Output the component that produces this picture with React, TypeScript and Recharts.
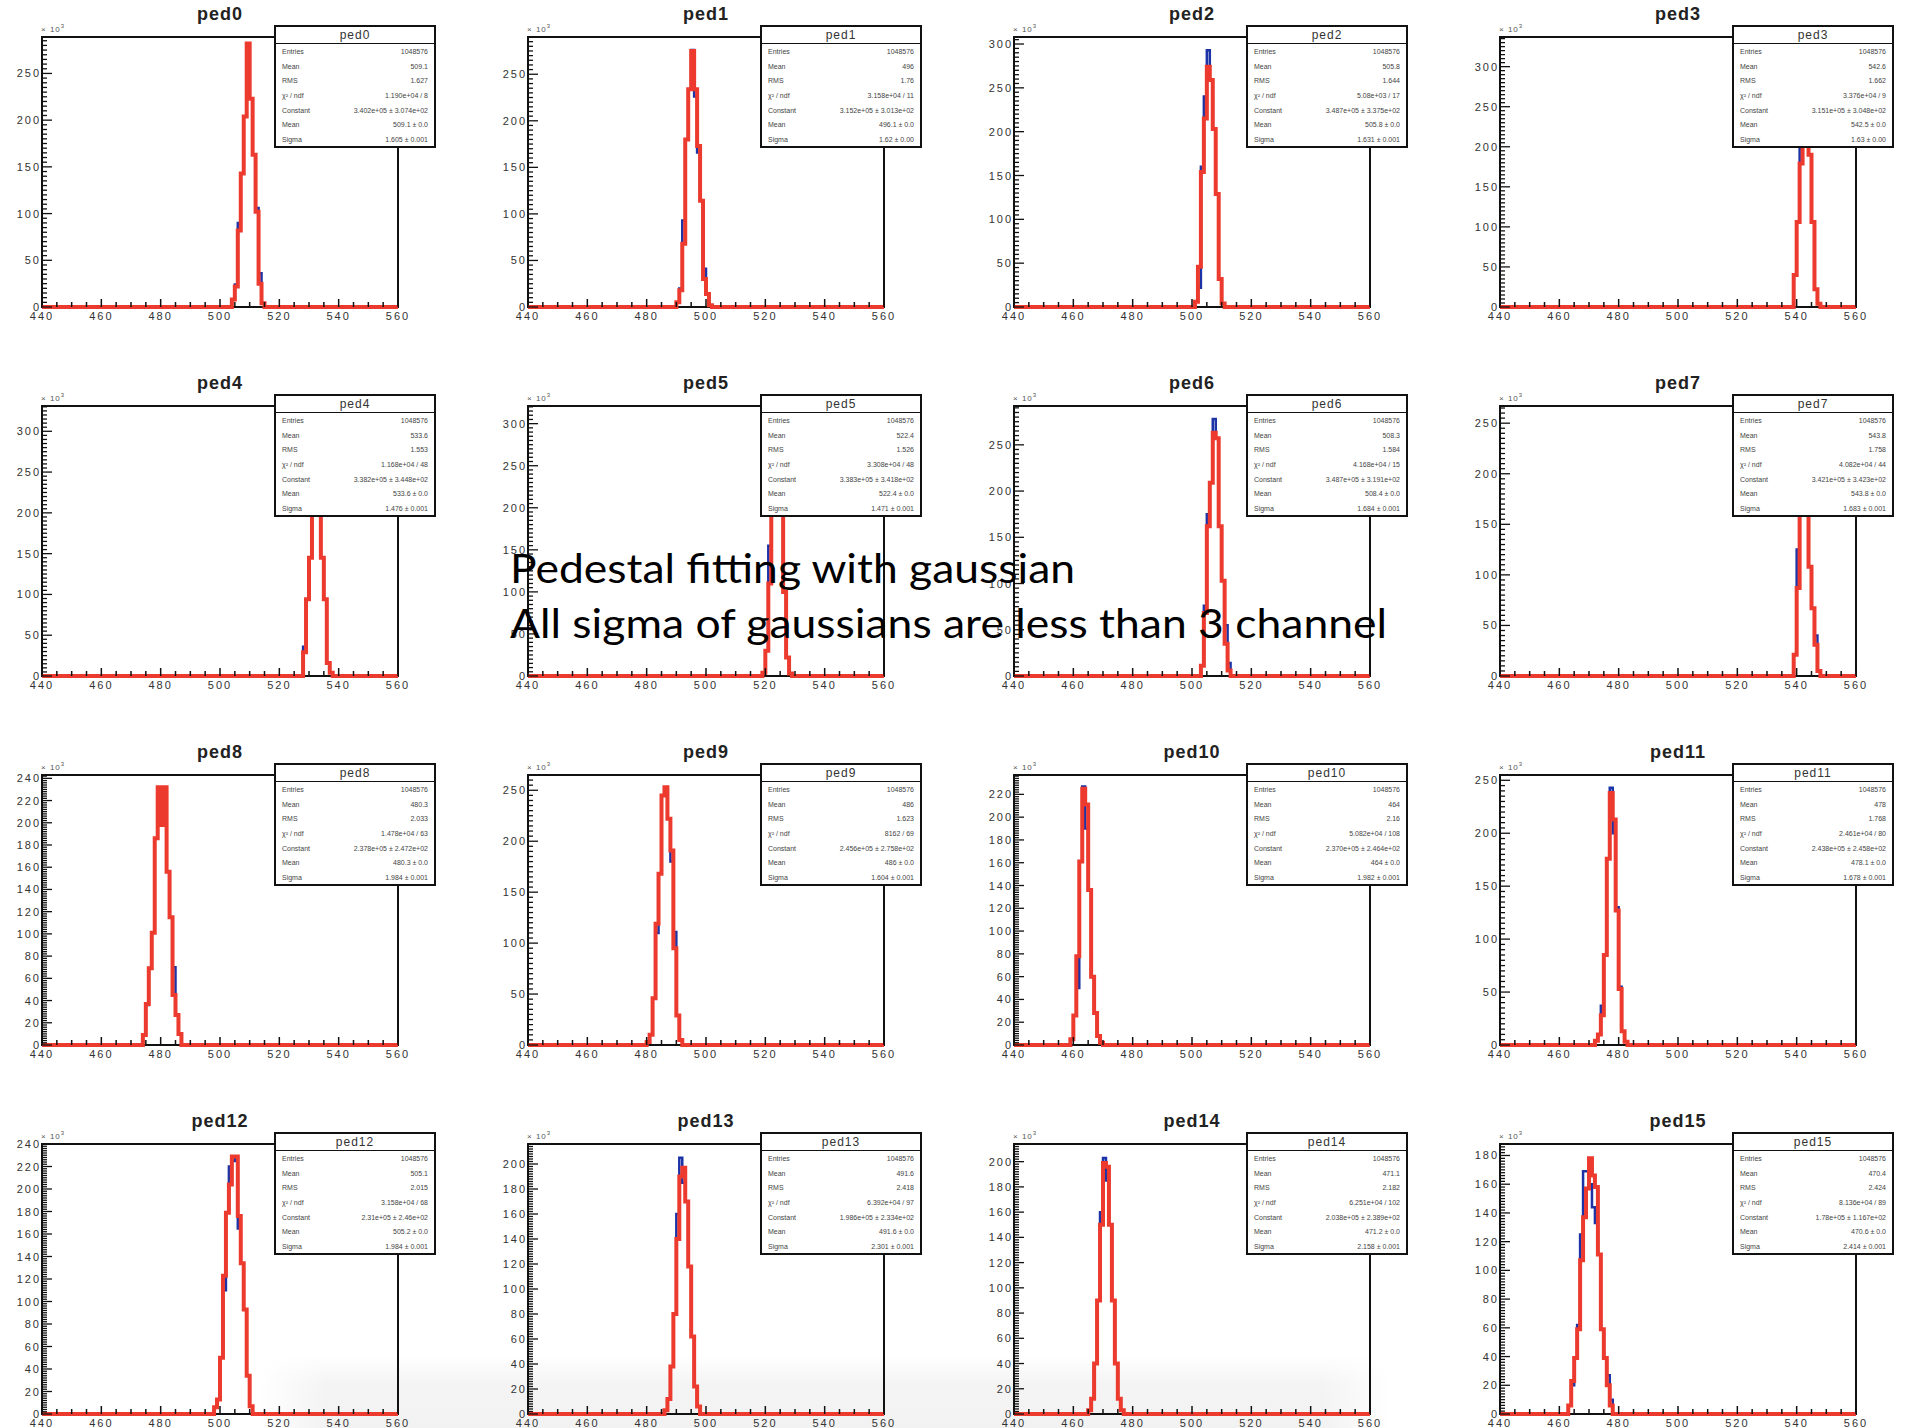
import { Line, LineChart, XAxis, YAxis } from 'recharts';

// Pedestal histograms, counts in units of 10^3, one bin per ADC channel.
// pedNStart is the low edge of the first listed bin.
const ped0Start = 504;
const ped0Data = [8, 24, 90, 143, 204, 276, 223, 163, 106, 36, 4];
const ped0Fit = [8, 22, 82, 143, 204, 282, 223, 163, 102, 25, 4];

const ped1Start = 490;
const ped1Data = [5, 20, 93, 180, 234, 276, 226, 166, 114, 41, 14, 2];
const ped1Fit = [5, 18, 68, 180, 234, 275, 234, 173, 114, 30, 14, 2];

const ped2Start = 501;
const ped2Data = [6, 22, 160, 240, 293, 259, 203, 129, 32, 4];
const ped2Fit = [6, 46, 154, 215, 274, 259, 203, 129, 32, 4];

const ped3Start = 539;
const ped3Data = [40, 106, 198, 290, 321, 190, 106, 22, 4];
const ped3Fit = [40, 106, 179, 290, 321, 190, 106, 22, 4];

const ped4Start = 528;
const ped4Data = [36, 94, 145, 250, 315, 235, 145, 94, 16, 4];
const ped4Fit = [29, 94, 145, 250, 315, 235, 145, 94, 16, 4];

const ped5Start = 519;
const ped5Data = [4, 30, 155, 215, 300, 306, 215, 100, 22, 3];
const ped5Fit = [4, 30, 110, 215, 300, 305, 215, 100, 22, 3];

const ped6Start = 503;
const ped6Data = [11, 76, 175, 209, 278, 257, 162, 103, 55, 14];
const ped6Fit = [11, 68, 162, 209, 263, 257, 162, 103, 35, 6];

const ped7Start = 539;
const ped7Data = [21, 125, 185, 254, 200, 108, 67, 40, 5];
const ped7Fit = [21, 87, 185, 254, 200, 108, 67, 31, 5];

const ped8Start = 474;
const ped8Data = [9, 36, 69, 101, 186, 229, 198, 232, 156, 115, 70, 27, 10];
const ped8Fit = [9, 37, 69, 101, 186, 232, 198, 232, 156, 115, 45, 27, 10];

const ped9Start = 480;
const ped9Data = [3, 10, 46, 110, 168, 245, 248, 222, 180, 111, 29, 5];
const ped9Fit = [3, 10, 46, 119, 168, 245, 253, 222, 191, 95, 29, 5];

const ped10Start = 459;
const ped10Data = [5, 26, 50, 161, 227, 190, 136, 60, 28, 8, 2];
const ped10Fit = [5, 26, 78, 161, 225, 211, 136, 60, 28, 8, 2];

const ped11Start = 472;
const ped11Data = [4, 10, 37, 85, 176, 243, 200, 130, 55, 13, 3];
const ped11Fit = [4, 10, 28, 85, 176, 238, 213, 127, 53, 13, 3];

const ped12Start = 498;
const ped12Data = [6, 13, 50, 110, 179, 220, 225, 229, 165, 134, 93, 34, 7];
const ped12Fit = [6, 13, 50, 123, 179, 204, 229, 229, 176, 134, 93, 34, 7];

const ped13Start = 486;
const ped13Data = [3, 12, 38, 80, 160, 205, 185, 170, 118, 62, 22, 6];
const ped13Fit = [3, 12, 38, 80, 140, 190, 197, 170, 118, 62, 22, 6];

const ped14Start = 465;
const ped14Data = [3, 12, 40, 90, 160, 203, 185, 150, 90, 40, 12, 3];
const ped14Fit = [3, 12, 40, 90, 150, 199, 196, 150, 90, 40, 12, 3];

const ped15Start = 463;
const ped15Data = [6, 20, 39, 62, 125, 169, 169, 160, 144, 133, 111, 59, 39, 27, 10];
const ped15Fit = [6, 23, 39, 59, 107, 137, 157, 178, 166, 158, 111, 59, 39, 20, 6];

// y axis top and labelled-tick step per pad
const yMaxes = [289, 290, 308, 337, 331, 321, 292, 267, 243, 265, 237, 255, 240, 216, 214, 188];
const ySteps = [50, 50, 50, 50, 50, 50, 50, 50, 20, 50, 20, 50, 20, 20, 20, 20];

const xTicks = [
  440, 445, 450, 455, 460, 465, 470, 475, 480, 485, 490, 495, 500, 505, 510, 515, 520, 525, 530,
  535, 540, 545, 550, 555, 560,
];

// stats box contents
const entries = '1048576';
const histMeans = ['509.1', '496', '505.8', '542.6', '533.6', '522.4', '508.3', '543.8', '480.3', '486', '464', '478', '505.1', '491.6', '471.1', '470.4'];
const histRms = ['1.627', '1.76', '1.644', '1.662', '1.553', '1.526', '1.584', '1.758', '2.033', '1.623', '2.16', '1.768', '2.015', '2.418', '2.182', '2.424'];
const chi2 = ['1.190e+04 / 8', '3.158e+04 / 11', '5.08e+03 / 17', '3.376e+04 / 9', '1.168e+04 / 48', '3.308e+04 / 48', '4.168e+04 / 15', '4.082e+04 / 44', '1.478e+04 / 63', '8162 / 69', '5.082e+04 / 108', '2.461e+04 / 80', '3.158e+04 / 68', '6.392e+04 / 97', '6.251e+04 / 102', '8.136e+04 / 89'];
const constants = ['3.402e+05 ± 3.074e+02', '3.152e+05 ± 3.013e+02', '3.487e+05 ± 3.375e+02', '3.151e+05 ± 3.048e+02', '3.382e+05 ± 3.448e+02', '3.383e+05 ± 3.418e+02', '3.487e+05 ± 3.191e+02', '3.421e+05 ± 3.423e+02', '2.378e+05 ± 2.472e+02', '2.456e+05 ± 2.758e+02', '2.370e+05 ± 2.464e+02', '2.438e+05 ± 2.458e+02', '2.31e+05 ± 2.46e+02', '1.986e+05 ± 2.334e+02', '2.038e+05 ± 2.389e+02', '1.78e+05 ± 1.167e+02'];
const fitMeans = ['509.1 ± 0.0', '496.1 ± 0.0', '505.8 ± 0.0', '542.5 ± 0.0', '533.6 ± 0.0', '522.4 ± 0.0', '508.4 ± 0.0', '543.8 ± 0.0', '480.3 ± 0.0', '486 ± 0.0', '464 ± 0.0', '478.1 ± 0.0', '505.2 ± 0.0', '491.6 ± 0.0', '471.2 ± 0.0', '470.6 ± 0.0'];
const sigmas = ['1.605 ± 0.001', '1.62 ± 0.00', '1.631 ± 0.001', '1.63 ± 0.00', '1.476 ± 0.001', '1.471 ± 0.001', '1.684 ± 0.001', '1.683 ± 0.001', '1.984 ± 0.001', '1.604 ± 0.001', '1.982 ± 0.001', '1.678 ± 0.001', '1.984 ± 0.001', '2.301 ± 0.001', '2.158 ± 0.001', '2.414 ± 0.001'];

const pads = [
  { start: ped0Start, data: ped0Data, fit: ped0Fit },
  { start: ped1Start, data: ped1Data, fit: ped1Fit },
  { start: ped2Start, data: ped2Data, fit: ped2Fit },
  { start: ped3Start, data: ped3Data, fit: ped3Fit },
  { start: ped4Start, data: ped4Data, fit: ped4Fit },
  { start: ped5Start, data: ped5Data, fit: ped5Fit },
  { start: ped6Start, data: ped6Data, fit: ped6Fit },
  { start: ped7Start, data: ped7Data, fit: ped7Fit },
  { start: ped8Start, data: ped8Data, fit: ped8Fit },
  { start: ped9Start, data: ped9Data, fit: ped9Fit },
  { start: ped10Start, data: ped10Data, fit: ped10Fit },
  { start: ped11Start, data: ped11Data, fit: ped11Fit },
  { start: ped12Start, data: ped12Data, fit: ped12Fit },
  { start: ped13Start, data: ped13Data, fit: ped13Fit },
  { start: ped14Start, data: ped14Data, fit: ped14Fit },
  { start: ped15Start, data: ped15Data, fit: ped15Fit },
];

const COL_W = 486;
const ROW_H = 369;
const FRAME_X = 42;
const FRAME_Y = 37;
const FRAME_W = 356;
const FRAME_H = 270;
const FONT = '"Liberation Sans", Arial, sans-serif';
const RED = '#ec3b2e';
const BLUE = '#1b33a6';

// step-histogram rows: zero from 440 up to the first bin, bins, then zero to 560
function buildRows(start: number, data: number[], fit: number[]) {
  const rows = [{ x: 440, data: 0, fit: 0 }];
  data.forEach((v, i) => rows.push({ x: start + i, data: v, fit: fit[i] }));
  rows.push({ x: start + data.length, data: 0, fit: 0 });
  rows.push({ x: 560, data: 0, fit: 0 });
  return rows;
}

function XTick(props: any) {
  const { x, y, payload } = props;
  const v = payload.value;
  const major = v % 20 === 0;
  return (
    <g>
      <line x1={x} x2={x} y1={y} y2={y - (major ? 8 : 5)} stroke="#111" strokeWidth={1.5} />
      {major && (
        <text x={x} y={y + 13} textAnchor="middle" fontSize={11} letterSpacing={2} fill="#333" fontFamily={FONT}>
          {v}
        </text>
      )}
    </g>
  );
}

function makeYTick(step: number) {
  return (props: any) => {
    const { x, y, payload } = props;
    const v = payload.value;
    const major = v % step === 0;
    return (
      <g>
        <line x1={x} x2={x + (major ? 10 : 5)} y1={y} y2={y} stroke="#111" strokeWidth={1.3} />
        {major && (
          <text x={x - 1} y={y + 4} textAnchor="end" fontSize={11} letterSpacing={2} fill="#333" fontFamily={FONT}>
            {v}
          </text>
        )}
      </g>
    );
  };
}

function StatsBox({ i }: { i: number }) {
  const rows = [
    ['Entries', entries],
    ['Mean', histMeans[i]],
    ['RMS', histRms[i]],
    ['χ² / ndf', chi2[i]],
    ['Constant', constants[i]],
    ['Mean', fitMeans[i]],
    ['Sigma', sigmas[i]],
  ];
  return (
    <div
      style={{
        position: 'absolute',
        left: FRAME_X + 232,
        top: FRAME_Y - 12,
        width: 162,
        height: 123,
        boxSizing: 'border-box',
        border: '2px solid #111',
        background: '#fff',
        fontFamily: FONT,
        zIndex: 3,
      }}
    >
      <div
        style={{
          height: 16,
          borderBottom: '1.5px solid #111',
          textAlign: 'center',
          fontSize: 12,
          lineHeight: '16px',
          color: '#333',
          letterSpacing: 1,
        }}
      >
        {'ped' + i}
      </div>
      {rows.map(([label, value], k) => (
        <div
          key={k}
          style={{
            height: 14.7,
            display: 'flex',
            justifyContent: 'space-between',
            alignItems: 'center',
            padding: '0 6px',
            fontSize: 7,
            color: '#444',
            whiteSpace: 'nowrap',
          }}
        >
          <span>{label}</span>
          <span>{value}</span>
        </div>
      ))}
    </div>
  );
}

function Pad({ i }: { i: number }) {
  const pad = pads[i];
  const rows = buildRows(pad.start, pad.data, pad.fit);
  const yMax = yMaxes[i];
  const step = ySteps[i];
  const minor = step / 10;
  const yTicks: number[] = [];
  for (let v = 0; v <= yMax; v += minor) yTicks.push(v);
  const col = i % 4;
  const row = Math.floor(i / 4);

  return (
    <div style={{ position: 'absolute', left: col * COL_W, top: row * ROW_H, width: 440, height: 345 }}>
      <div
        style={{
          position: 'absolute',
          left: 0,
          top: FRAME_Y - 16 - 18,
          width: FRAME_X * 2 + FRAME_W,
          textAlign: 'center',
          fontFamily: FONT,
          fontWeight: 'bold',
          fontSize: 18,
          lineHeight: '22px',
          letterSpacing: 1,
          color: '#222',
        }}
      >
        {'ped' + i}
      </div>
      <div
        style={{
          position: 'absolute',
          left: FRAME_X - 1,
          top: FRAME_Y - 14,
          fontFamily: FONT,
          fontSize: 8,
          letterSpacing: 1,
          color: '#555',
        }}
      >
        × 10<sup style={{ fontSize: 6 }}>3</sup>
      </div>
      <div
        style={{
          position: 'absolute',
          left: FRAME_X - 1,
          top: FRAME_Y - 1,
          width: FRAME_W + 2,
          height: FRAME_H + 2,
          boxSizing: 'border-box',
          border: '2px solid #111',
        }}
      />
      <div style={{ position: 'absolute', left: 0, top: 0, zIndex: 2 }}>
        <LineChart
          width={FRAME_X + FRAME_W + 22}
          height={FRAME_Y + FRAME_H + 33}
          data={rows}
          margin={{ top: FRAME_Y, right: 22, bottom: 0, left: 0 }}
        >
          <XAxis
            type="number"
            dataKey="x"
            domain={[440, 560]}
            ticks={xTicks}
            interval={0}
            height={33}
            axisLine={false}
            tickLine={false}
            tickSize={0}
            tickMargin={0}
            tick={XTick}
          />
          <YAxis
            type="number"
            domain={[0, yMax]}
            ticks={yTicks}
            interval={0}
            width={FRAME_X}
            axisLine={false}
            tickLine={false}
            tickSize={0}
            tickMargin={0}
            tick={makeYTick(step)}
          />
          <Line
            type="stepAfter"
            dataKey="data"
            stroke={BLUE}
            strokeWidth={2.5}
            dot={false}
            isAnimationActive={false}
          />
          <Line
            type="stepAfter"
            dataKey="fit"
            stroke={RED}
            strokeWidth={4}
            dot={false}
            isAnimationActive={false}
          />
        </LineChart>
      </div>
      <StatsBox i={i} />
    </div>
  );
}

export default function App() {
  return (
    <div
      style={{
        position: 'absolute',
        left: 0,
        top: 0,
        width: 1905,
        height: 1428,
        background: '#fff',
        overflow: 'hidden',
      }}
    >
      {/* faint grey wash along the bottom of the last row */}
      <div
        style={{
          position: 'absolute',
          left: 260,
          top: 1355,
          width: 1130,
          height: 73,
          background:
            'linear-gradient(to right, rgba(255,255,255,1), rgba(255,255,255,0) 6%, rgba(255,255,255,0) 94%, rgba(255,255,255,1)), linear-gradient(to bottom, #ffffff, #f4f4f4 40%, #f2f2f2)',
        }}
      />
      {pads.map((_, i) => (
        <Pad key={i} i={i} />
      ))}
      <svg
        width={1905}
        height={1428}
        style={{ position: 'absolute', left: 0, top: 0, zIndex: 5, pointerEvents: 'none' }}
      >
        <text
          x={510}
          y={583}
          fontFamily="Lato, 'Open Sans', sans-serif"
          fontSize={40}
          fill="#000"
          textLength={565}
          lengthAdjust="spacingAndGlyphs"
        >
          Pedestal fitting with gaussian
        </text>
        <text
          x={510}
          y={638}
          fontFamily="Lato, 'Open Sans', sans-serif"
          fontSize={40}
          fill="#000"
          textLength={877}
          lengthAdjust="spacingAndGlyphs"
        >
          All sigma of gaussians are less than 3 channel
        </text>
      </svg>
    </div>
  );
}
